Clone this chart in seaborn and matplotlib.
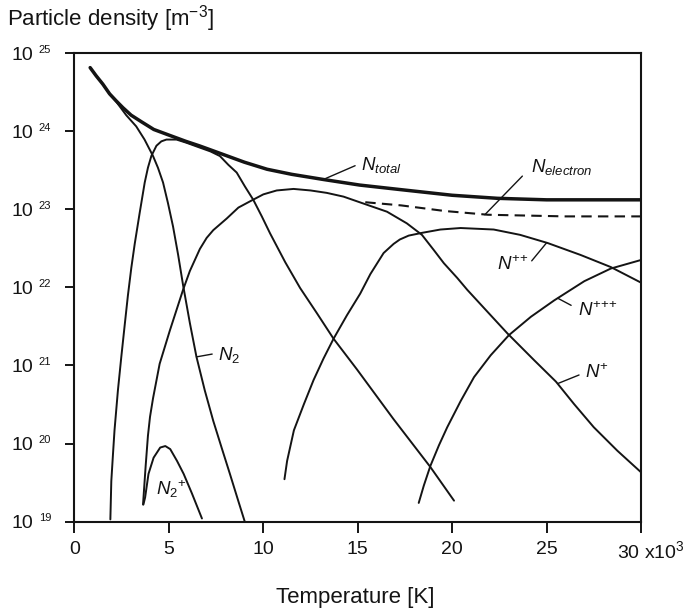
import matplotlib
matplotlib.use("Agg")
import matplotlib.pyplot as plt
import pandas as pd
import seaborn as sns
from matplotlib.ticker import FixedLocator, NullLocator

# Temperatures in units of 10^3 K, particle densities in m^-3
temp_total = [0.83, 1.15, 1.5, 1.86, 2.2, 2.56, 3.0, 3.54, 4.2, 5.0, 5.9, 6.6, 7.0, 8.0,
              9.0, 10.2, 11.5, 13.2, 15.1, 17.3, 20.0, 22.4, 25.0, 30.0]
dens_total = [6.5e24, 5.1e24, 4.0e24, 3.0e24, 2.45e24, 2.0e24, 1.6e24, 1.32e24, 1.05e24,
              8.9e23, 7.4e23, 6.5e23, 6.0e23, 4.9e23, 4.0e23, 3.25e23, 2.8e23, 2.4e23,
              2.04e23, 1.78e23, 1.51e23, 1.38e23, 1.32e23, 1.32e23]

temp_electron = [15.4, 17.3, 19.6, 21.9, 26.0, 30.0]
dens_electron = [1.23e23, 1.12e23, 9.5e22, 8.5e22, 8.1e22, 8.1e22]

temp_n2 = [0.83, 1.15, 1.5, 1.86, 2.2, 2.74, 3.27, 3.71, 4.16, 4.42, 4.69, 4.95, 5.22,
           5.49, 5.75, 6.11, 6.46, 6.9, 7.35, 7.79, 8.23, 8.67, 9.03]
dens_n2 = [6.5e24, 5.1e24, 4.0e24, 3.0e24, 2.4e24, 1.6e24, 1.15e24, 7.8e23, 4.8e23,
           3.4e23, 2.2e23, 1.2e23, 6.0e22, 2.6e22, 1.07e22, 3.5e21, 1.29e21, 4.8e20,
           1.95e20, 8.9e19, 4.1e19, 1.86e19, 9.8e18]

temp_n2_ion = [3.65, 3.74, 3.92, 4.19, 4.54, 4.81, 5.07, 5.43, 5.78, 6.22, 6.75]
dens_n2_ion = [1.66e19, 2.04e19, 4.1e19, 6.6e19, 8.9e19, 9.3e19, 8.5e19, 6.0e19,
               4.1e19, 2.3e19, 1.1e19]

temp_n = [1.9, 1.95, 2.04, 2.12, 2.3, 2.48, 2.66, 2.83, 3.01, 3.19, 3.45, 3.72, 3.89,
          4.07, 4.34, 4.6, 4.87, 5.4, 5.93, 6.6, 7.2, 7.7, 8.15, 8.59, 9.03, 9.47, 9.92,
          10.36, 11.16, 11.95, 12.83, 13.72, 14.96, 16.9, 18.85, 20.1]
dens_n = [1.07e19, 3.3e19, 7.4e19, 1.48e20, 4.8e20, 1.29e21, 3.3e21, 7.9e21, 1.78e22,
          3.6e22, 8.9e22, 2.2e23, 3.4e23, 4.8e23, 6.5e23, 7.4e23, 7.8e23, 7.8e23,
          7.1e23, 6.2e23, 5.5e23, 4.8e23, 3.7e23, 2.95e23, 1.95e23, 1.32e23, 8.1e22,
          4.9e22, 2.1e22, 9.8e21, 4.7e21, 2.2e21, 8.9e20, 2.05e20, 5.0e19, 1.86e19]

temp_n1 = [3.63, 3.68, 3.77, 3.89, 4.0, 4.16, 4.51, 5.05, 5.75, 6.11, 6.64, 7.0, 7.35,
           8.06, 8.68, 9.29, 10.0, 10.71, 11.6, 12.5, 13.36, 14.25, 15.1, 16.55, 17.6,
           18.4, 19.03, 19.56, 20.27, 20.8, 21.86, 22.93, 24.34, 25.5, 26.46, 27.5,
           28.75, 30.0]
dens_n1 = [1.66e19, 2.5e19, 5.2e19, 1.26e20, 2.2e20, 3.8e20, 1.05e21, 2.8e21, 9.3e21,
           1.62e22, 3.1e22, 4.3e22, 5.4e22, 7.6e22, 1.05e23, 1.26e23, 1.55e23, 1.74e23,
           1.82e23, 1.74e23, 1.62e23, 1.45e23, 1.23e23, 9.3e22, 6.6e22, 4.7e22, 3.0e22,
           2.04e22, 1.32e22, 9.3e21, 4.9e21, 2.57e21, 1.17e21, 6.2e20, 3.2e20, 1.62e20,
           8.1e19, 4.3e19]

temp_n2p = [11.12, 11.26, 11.62, 12.15, 12.66, 13.19, 13.72, 14.43, 15.13, 15.67, 16.37,
            16.9, 17.23, 17.7, 18.43, 19.38, 20.45, 22.2, 23.6, 25.05, 26.8, 28.4, 30.0]
dens_n2p = [3.5e19, 6.0e19, 1.48e20, 3.2e20, 6.5e20, 1.23e21, 2.2e21, 4.4e21, 8.3e21,
            1.48e22, 2.75e22, 3.6e22, 4.1e22, 4.6e22, 5.0e22, 5.5e22, 5.75e22, 5.5e22,
            4.7e22, 3.7e22, 2.6e22, 1.82e22, 1.15e22]

temp_n3p = [18.23, 18.5, 18.85, 19.3, 19.74, 20.45, 21.16, 22.04, 23.01, 24.17, 25.4,
            27.0, 28.4, 30.0]
dens_n3p = [1.74e19, 2.9e19, 5.2e19, 9.5e19, 1.62e20, 3.5e20, 7.1e20, 1.35e21, 2.45e21,
            4.2e21, 6.8e21, 1.2e22, 1.74e22, 2.24e22]

x_ticks = [0, 5, 10, 15, 20, 25, 30]
x_tick_labels = ["0", "5", "10", "15", "20", "25", ""]
y_exponents = [19, 20, 21, 22, 23, 24, 25]

sns.set_theme(style="ticks")
plt.rcParams["font.family"] = ["Liberation Sans", "DejaVu Sans"]
plt.rcParams["mathtext.fontset"] = "custom"
plt.rcParams["mathtext.rm"] = "Liberation Sans"
plt.rcParams["mathtext.it"] = "Liberation Sans:italic"
plt.rcParams["mathtext.bf"] = "Liberation Sans:bold"

ink = "#141414"

fig = plt.figure(figsize=(6.89, 6.15), dpi=100)
ax = fig.add_axes([0.1081, 0.1517, 0.8222, 0.7621])
ax.set_yscale("log")


def frame(t, n):
    return pd.DataFrame({"T": t, "N": n})


thin_curves = [
    (temp_n2, dens_n2),
    (temp_n2_ion, dens_n2_ion),
    (temp_n, dens_n),
    (temp_n1, dens_n1),
    (temp_n2p, dens_n2p),
    (temp_n3p, dens_n3p),
]
for t, n in thin_curves:
    sns.lineplot(data=frame(t, n), x="T", y="N", color=ink, lw=1.4,
                 estimator=None, sort=False, ax=ax, zorder=3)

sns.lineplot(data=frame(temp_electron, dens_electron), x="T", y="N", color=ink,
             lw=1.5, estimator=None, sort=False, ax=ax, zorder=3)
ax.lines[-1].set_dashes((5, 3))

sns.lineplot(data=frame(temp_total, dens_total), x="T", y="N", color=ink, lw=2.5,
             estimator=None, sort=False, ax=ax, zorder=4)
for line in ax.lines:
    line.set_solid_joinstyle("round")
    line.set_solid_capstyle("round")

ax.set_xlim(0, 30)
ax.set_ylim(1e19, 1e25)
ax.set_xlabel("")
ax.set_ylabel("")

for side in ["left", "right", "top", "bottom"]:
    ax.spines[side].set_visible(True)
    ax.spines[side].set_linewidth(1.5)
    ax.spines[side].set_color(ink)

ax.xaxis.set_major_locator(FixedLocator(x_ticks))
ax.set_xticklabels(x_tick_labels)
ax.yaxis.set_major_locator(FixedLocator([10.0 ** e for e in y_exponents]))
ax.yaxis.set_minor_locator(NullLocator())
ax.set_yticklabels(["10"] * len(y_exponents))
ax.tick_params(axis="x", direction="out", length=8.2, width=1.4, color=ink,
               labelsize=14, labelcolor=ink, pad=6)
ax.tick_params(axis="y", direction="out", length=6.8, width=1.4, color=ink,
               labelsize=14, labelcolor=ink, pad=22.8)
ax.tick_params(which="minor", length=0)

# exponents of the decade labels
for e in y_exponents:
    ax.annotate(str(e), xy=(0, 10.0 ** e), xycoords=("axes fraction", "data"),
                xytext=(-25.6, 2.5), textcoords="offset points",
                ha="left", va="center", fontsize=8, color=ink)

fig.text(617 / 689, 1 - 551 / 615, r"30 x10$^{3}$", ha="left", va="center",
         fontsize=14, color=ink)
fig.text(7 / 689, 1 - 25 / 615, r"Particle density [m$^{-3}$]", ha="left",
         va="baseline", fontsize=16, color=ink)
fig.text(355 / 689, 1 - 603 / 615, "Temperature [K]", ha="center", va="baseline",
         fontsize=16, color=ink)

# curve labels with leader lines
label_size = 13.5
lead = dict(arrowstyle="-", color=ink, lw=1.0, shrinkB=0)

ax.annotate(r"$N_{total}$", xy=(13.17, 10 ** 23.38), xytext=(15.17, 10 ** 23.50),
            ha="left", va="baseline", fontsize=label_size, color=ink,
            arrowprops=dict(lead, relpos=(0, 0.6), shrinkA=2))
ax.annotate(r"$N_{electron}$", xy=(21.73, 10 ** 22.93), xytext=(24.2, 10 ** 23.48),
            ha="left", va="baseline", fontsize=label_size, color=ink,
            arrowprops=dict(lead, relpos=(0, 0.5), shrinkA=6))
ax.annotate(r"$N^{{+}{+}}$", xy=(25.0, 10 ** 22.57), xytext=(22.37, 10 ** 22.22),
            ha="left", va="baseline", fontsize=label_size, color=ink,
            arrowprops=dict(lead, relpos=(1, 0.5), shrinkA=0))
ax.annotate(r"$N^{{+}{+}{+}}$", xy=(25.6, 10 ** 21.86), xytext=(26.67, 10 ** 21.63),
            ha="left", va="baseline", fontsize=label_size, color=ink,
            arrowprops=dict(lead, relpos=(0, 0.6), shrinkA=3))
ax.annotate(r"$N^{+}$", xy=(25.61, 10 ** 20.77), xytext=(27.03, 10 ** 20.84),
            ha="left", va="baseline", fontsize=label_size, color=ink,
            arrowprops=dict(lead, relpos=(0, 0.5), shrinkA=2))
ax.annotate(r"$N_{2}$", xy=(6.46, 10 ** 21.11), xytext=(7.61, 10 ** 21.07),
            ha="left", va="baseline", fontsize=label_size, color=ink,
            arrowprops=dict(lead, relpos=(0, 0.6), shrinkA=2))
ax.text(4.31, 10 ** 19.34, r"$N_{2}{}^{+}$", ha="left", va="baseline",
        fontsize=label_size, color=ink)

fig.savefig("out.png", dpi=100)
